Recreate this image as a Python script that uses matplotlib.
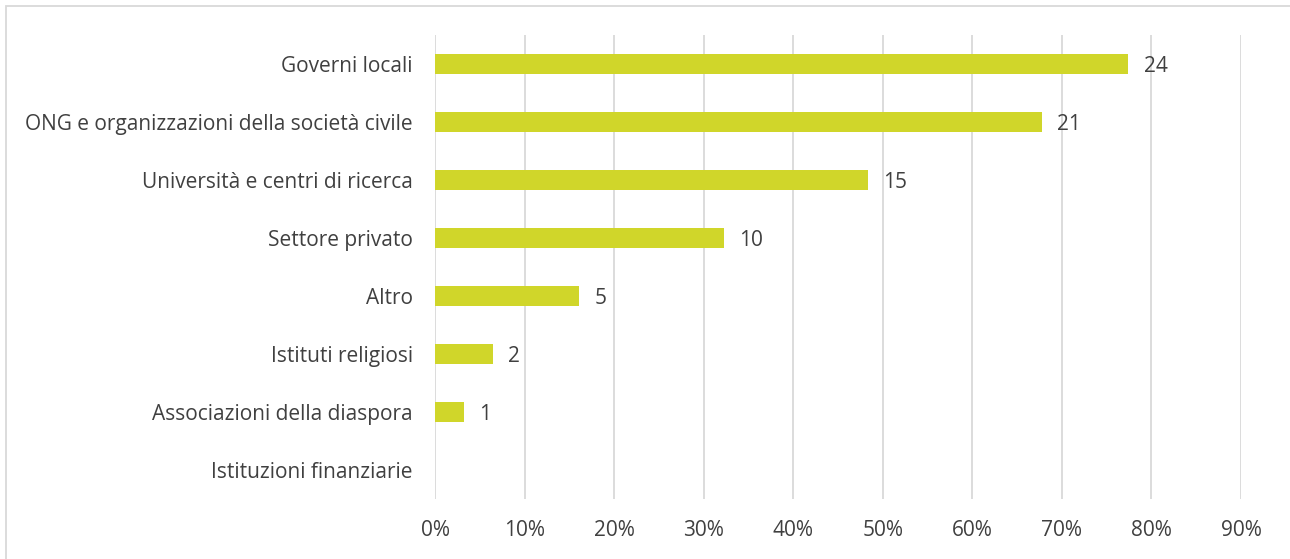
import numpy as np
import matplotlib.pyplot as plt
from matplotlib.patches import Rectangle
from matplotlib.ticker import PercentFormatter

plt.rcParams['font.family'] = ['Open Sans', 'DejaVu Sans']

categorie = ["Governi locali", "ONG e organizzazioni della società civile",
             "Università e centri di ricerca", "Settore privato", "Altro",
             "Istituti religiosi", "Associazioni della diaspora",
             "Istituzioni finanziarie"]
conteggi = [24, 21, 15, 10, 5, 2, 1, 0]
totale = 31

quote = np.array(conteggi) / totale
ypos = np.arange(len(categorie))

W, H = 1290, 559
fig = plt.figure(figsize=(W / 100, H / 100), dpi=100)
ax = fig.add_axes([435 / W, 1 - 499 / H, (1241 - 435) / W, 464 / H])

testo = "#404040"
fs = 15
ax.barh(ypos, quote, height=0.36, color="#D0D62A", zorder=3)
for y, q, n in zip(ypos, quote, conteggi):
    if n > 0:
        ax.text(q + 0.017, y + 0.04, str(n), va="center", ha="left",
                fontsize=fs, color=testo)

ax.set_xlim(0, 0.9)
ax.set_ylim(len(categorie) - 0.5, -0.5)
ax.set_xticks(np.arange(0, 0.91, 0.1))
ax.xaxis.set_major_formatter(PercentFormatter(1.0, decimals=0))
ax.set_yticks(ypos)
ax.set_yticklabels(categorie)
ax.grid(axis="x", color="#D9D9D9", linewidth=1.3, zorder=0)
for s in ax.spines.values():
    s.set_visible(False)
ax.tick_params(axis="both", length=0, labelsize=fs, labelcolor=testo)
ax.tick_params(axis="y", pad=16)
ax.tick_params(axis="x", pad=15)

# cornice grigia attorno al grafico
fig.patches.append(Rectangle((6 / W, -0.05), 1.05, 1 - 6 / H + 0.05,
                             transform=fig.transFigure, fill=False,
                             edgecolor="#D9D9D9", linewidth=1.3))

fig.savefig("out.png", dpi=100)
